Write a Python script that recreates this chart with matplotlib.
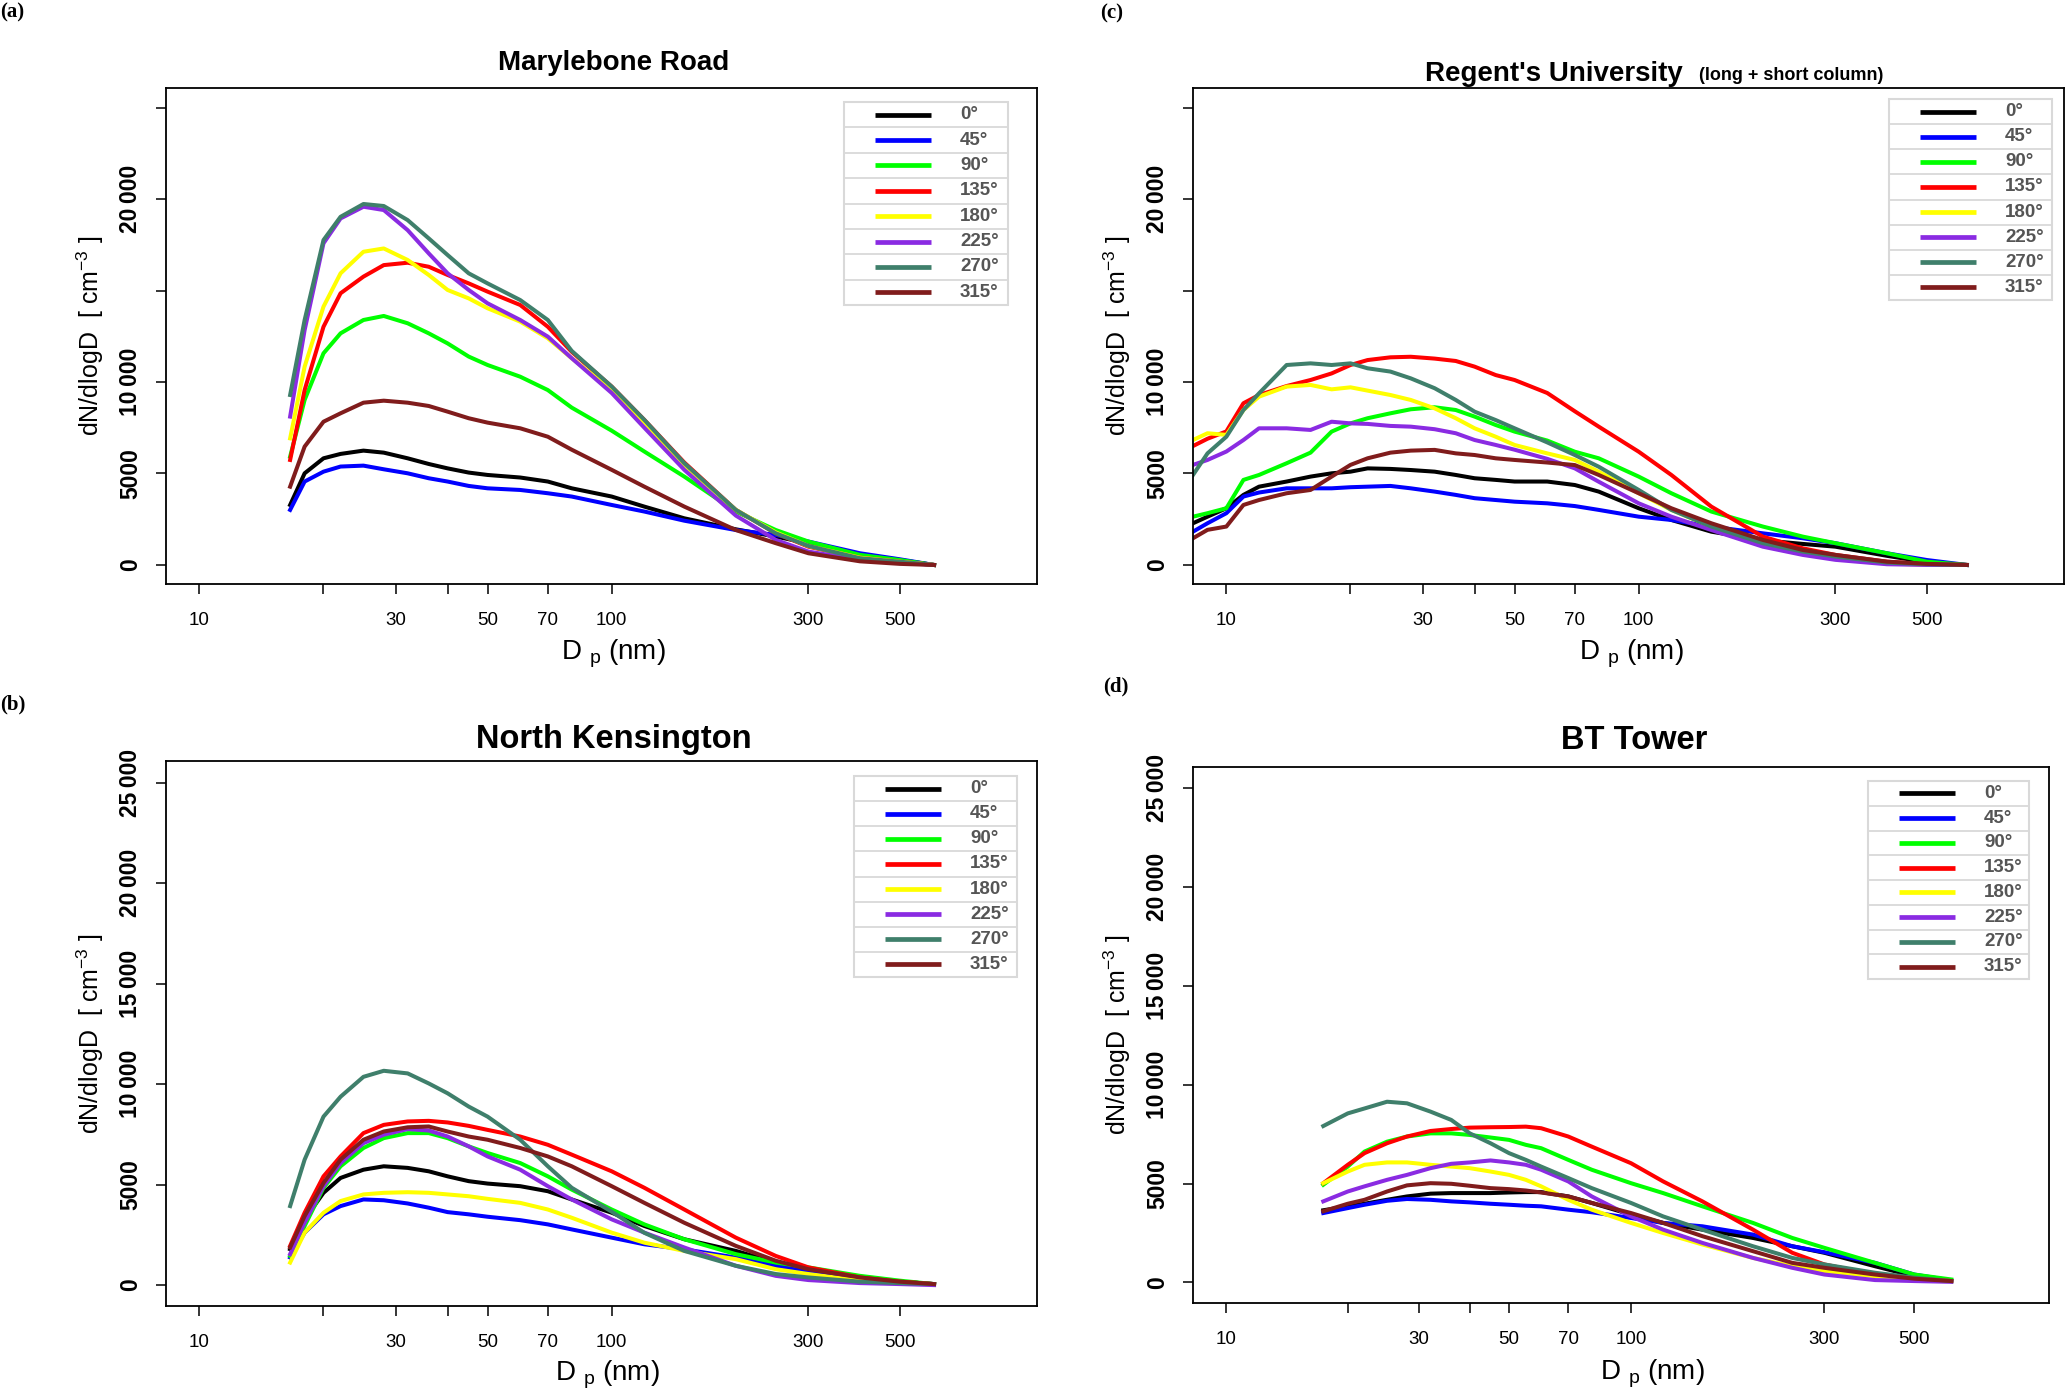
import matplotlib
matplotlib.use("Agg")
import matplotlib.pyplot as plt
from matplotlib.lines import Line2D
from matplotlib.patches import Rectangle
from matplotlib.ticker import NullLocator

plt.rcParams['font.family'] = ['Liberation Sans', 'DejaVu Sans']
plt.rcParams['mathtext.default'] = 'regular'

W, H = 2067, 1394

ANGLES = ['0°', '45°', '90°', '135°', '180°', '225°', '270°', '315°']
COLORS = ['#000000', '#0000ff', '#00ff00', '#ff0000', '#ffff00', '#8a2be2', '#3f7f6b', '#801c1c']

X_TICKS = [10, 20, 30, 40, 50, 70, 100, 300, 500]
X_LABELS = ['10', '', '30', '', '50', '70', '100', '300', '500']
Y_TICKS = [0, 5000, 10000, 15000, 20000, 25000]

# (a) Marylebone Road
MR_DP = [16.6, 18, 20, 22, 25, 28, 32, 36, 40, 45, 50, 60, 70, 80, 100, 120, 150, 200, 250, 300, 400, 500, 605]
MR_0 = [3280, 5010, 5830, 6070, 6250, 6140, 5830, 5520, 5280, 5050, 4920, 4780, 4560, 4190, 3740, 3190, 2550, 1950, 1550, 1190, 550, 270, 0]
MR_45 = [3010, 4560, 5100, 5380, 5430, 5230, 5010, 4740, 4560, 4320, 4190, 4100, 3920, 3740, 3280, 2920, 2420, 1910, 1640, 1280, 640, 310, 0]
MR_90 = [5920, 9020, 11570, 12660, 13390, 13610, 13210, 12660, 12110, 11390, 10930, 10290, 9560, 8600, 7340, 6200, 4830, 2920, 1910, 1280, 550, 270, 0]
MR_135 = [5740, 9560, 13020, 14850, 15760, 16390, 16520, 16300, 15850, 15390, 14940, 14210, 13020, 11650, 9750, 7930, 5600, 3010, 1730, 1000, 400, 180, 0]
MR_180 = [6920, 10840, 14120, 15940, 17120, 17300, 16670, 15850, 15030, 14570, 14030, 13300, 12390, 11300, 9550, 7800, 5450, 3010, 1780, 1040, 400, 180, 0]
MR_225 = [8110, 12840, 17580, 18940, 19580, 19400, 18300, 17030, 15940, 15030, 14300, 13390, 12480, 11300, 9400, 7500, 5200, 2700, 1370, 730, 280, 130, 0]
MR_270 = [9290, 13390, 17760, 19030, 19730, 19620, 18850, 17850, 16940, 15940, 15390, 14480, 13390, 11700, 9750, 7930, 5560, 3010, 1730, 1040, 370, 180, 0]
MR_315 = [4280, 6470, 7830, 8290, 8870, 8980, 8870, 8690, 8380, 8020, 7780, 7470, 7010, 6300, 5200, 4280, 3190, 1910, 1190, 640, 200, 60, 0]

# (c) Regent's University
RU_DP = [8.3, 9, 10, 11, 12, 14, 16, 18, 20, 22, 25, 28, 32, 36, 40, 45, 50, 60, 70, 80, 100, 120, 150, 200, 250, 300, 400, 500, 625]
RU_0 = [2280, 2640, 3100, 3830, 4280, 4560, 4830, 5010, 5100, 5280, 5250, 5190, 5100, 4920, 4740, 4650, 4560, 4560, 4370, 4010, 3100, 2460, 1820, 1350, 1150, 1000, 500, 150, 0]
RU_45 = [1820, 2280, 2830, 3740, 3960, 4190, 4190, 4190, 4250, 4280, 4320, 4190, 4010, 3830, 3650, 3550, 3460, 3370, 3220, 3010, 2640, 2460, 2100, 1730, 1460, 1190, 640, 270, 0]
RU_90 = [2640, 2830, 3100, 4650, 4920, 5560, 6140, 7290, 7740, 8020, 8290, 8510, 8620, 8470, 8110, 7650, 7290, 6800, 6190, 5830, 4830, 3920, 2920, 2100, 1550, 1190, 640, 180, 0]
RU_135 = [6500, 6900, 7300, 8840, 9290, 9780, 10110, 10470, 10930, 11200, 11350, 11380, 11280, 11150, 10840, 10380, 10110, 9400, 8400, 7560, 6190, 4920, 3190, 1550, 910, 550, 180, 40, 0]
RU_180 = [6830, 7200, 7110, 8470, 9200, 9750, 9840, 9600, 9710, 9530, 9290, 9020, 8560, 8020, 7470, 7010, 6560, 6100, 5740, 5100, 3920, 3010, 2100, 1090, 640, 400, 90, 0, 0]
RU_225 = [5470, 5740, 6200, 6830, 7470, 7470, 7380, 7830, 7740, 7710, 7600, 7560, 7420, 7200, 6830, 6560, 6300, 5800, 5280, 4550, 3370, 2640, 1910, 1000, 550, 280, 40, 0, 0]
RU_270 = [4920, 6100, 7010, 8470, 9380, 10930, 11020, 10930, 11020, 10750, 10570, 10200, 9660, 9020, 8380, 7920, 7470, 6700, 6010, 5370, 4100, 3010, 2100, 1190, 730, 460, 130, 40, 0]
RU_315 = [1460, 1920, 2100, 3280, 3550, 3920, 4100, 4830, 5470, 5830, 6140, 6250, 6290, 6100, 6010, 5830, 5740, 5600, 5460, 4920, 3920, 3100, 2280, 1370, 820, 550, 180, 60, 0]

# (b) North Kensington
NK_DP = [16.6, 18, 20, 22, 25, 28, 32, 36, 40, 45, 50, 60, 70, 80, 100, 120, 150, 200, 250, 300, 400, 500, 605]
NK_0 = [1780, 3270, 4590, 5330, 5740, 5910, 5830, 5660, 5410, 5170, 5050, 4920, 4670, 4260, 3600, 2940, 2280, 1700, 1120, 790, 380, 170, 50]
NK_45 = [1370, 2610, 3520, 3930, 4260, 4220, 4060, 3850, 3630, 3520, 3400, 3230, 3020, 2770, 2360, 2030, 1780, 1370, 960, 710, 380, 170, 50]
NK_90 = [1450, 2940, 4840, 5910, 6820, 7310, 7560, 7560, 7310, 6900, 6570, 6070, 5410, 4750, 3760, 3020, 2280, 1540, 1120, 880, 460, 220, 50]
NK_135 = [1950, 3600, 5410, 6400, 7560, 7970, 8140, 8170, 8090, 7920, 7720, 7390, 6980, 6490, 5660, 4840, 3760, 2360, 1450, 880, 380, 170, 50]
NK_180 = [1120, 2610, 3600, 4180, 4510, 4590, 4620, 4590, 4510, 4420, 4290, 4090, 3760, 3350, 2610, 2110, 1700, 1290, 790, 550, 220, 100, 50]
NK_225 = [1540, 3100, 4920, 6070, 7060, 7480, 7760, 7690, 7390, 6900, 6400, 5740, 4920, 4260, 3270, 2610, 1870, 960, 460, 250, 100, 50, 0]
NK_270 = [3930, 6240, 8380, 9370, 10360, 10660, 10530, 10030, 9540, 8880, 8380, 7230, 5910, 4840, 3650, 2600, 1700, 960, 550, 380, 170, 100, 50]
NK_315 = [1870, 3430, 5080, 6240, 7230, 7640, 7850, 7890, 7640, 7390, 7230, 6820, 6400, 5910, 4920, 4090, 3100, 1950, 1210, 790, 380, 170, 50]

# (d) BT Tower
BT_DP = [17.4, 20, 22, 25, 28, 32, 36, 40, 45, 50, 55, 60, 70, 80, 100, 120, 150, 200, 250, 300, 400, 500, 617]
BT_0 = [3650, 3850, 3980, 4180, 4350, 4490, 4520, 4520, 4520, 4550, 4570, 4570, 4350, 4020, 3430, 3010, 2670, 2250, 1830, 1500, 820, 320, 70]
BT_45 = [3510, 3760, 3930, 4130, 4220, 4180, 4100, 4050, 3980, 3930, 3880, 3850, 3680, 3550, 3260, 3010, 2840, 2420, 1830, 1530, 990, 400, 100]
BT_90 = [4940, 5860, 6620, 7120, 7380, 7540, 7540, 7460, 7330, 7210, 6960, 6790, 6200, 5700, 5020, 4520, 3850, 3010, 2250, 1750, 990, 400, 150]
BT_135 = [5020, 5950, 6540, 7040, 7380, 7660, 7760, 7830, 7850, 7860, 7880, 7800, 7380, 6870, 6030, 5110, 4100, 2670, 1500, 910, 400, 190, 70]
BT_180 = [5020, 5610, 5950, 6070, 6070, 5950, 5860, 5780, 5610, 5440, 5190, 4860, 4180, 3680, 3010, 2500, 1920, 1240, 820, 570, 320, 150, 70]
BT_225 = [4100, 4600, 4860, 5190, 5440, 5780, 6000, 6070, 6170, 6070, 5950, 5700, 5110, 4350, 3340, 2670, 2000, 1240, 740, 400, 120, 70, 30]
BT_270 = [7910, 8550, 8800, 9140, 9060, 8640, 8220, 7540, 7040, 6540, 6200, 5860, 5280, 4770, 4020, 3340, 2670, 1830, 1240, 910, 490, 240, 70]
BT_315 = [3600, 3980, 4180, 4600, 4910, 5020, 4990, 4890, 4770, 4720, 4650, 4550, 4350, 4020, 3510, 3010, 2340, 1580, 990, 740, 400, 190, 70]


def ylab(v, show):
    if not show:
        return ''
    s = str(v)
    if v >= 10000:
        s = s[:-3] + '\u2009' + s[-3:]
    return s


fig = plt.figure(figsize=(W / 100, H / 100), dpi=100)


def px(x, y):
    return x / W, 1 - y / H


def draw_key(box):
    l, t, r, b = box
    rh = (b - t) / len(ANGLES)
    fig.add_artist(Rectangle(px(l, b), (r - l) / W, (b - t) / H, transform=fig.transFigure,
                             fill=False, ec='#d9d9d9', lw=1.5))
    for i, (lab, c) in enumerate(zip(ANGLES, COLORS)):
        yc = t + rh * (i + 0.5)
        if i:
            ys = 1 - (t + rh * i) / H
            fig.add_artist(Line2D([l / W, r / W], [ys, ys], color='#d9d9d9', lw=1.3,
                                  transform=fig.transFigure))
        fig.add_artist(Line2D([(l + 31) / W, (l + 87) / W], [1 - yc / H] * 2, color=c, lw=3.4,
                              transform=fig.transFigure, solid_capstyle='butt'))
        fig.text((l + 116) / W, 1 - yc / H, lab, fontsize=13.5, fontweight='bold',
                 color='#555555', va='center', ha='left')


def draw_panel(box, dp, series, show, key_box, xlab_pos):
    l, t, r, b = box
    ax = fig.add_axes([l / W, 1 - b / H, (r - l) / W, (b - t) / H])
    for vals, c in zip(series, COLORS):
        ax.plot(dp, vals, color=c, lw=2.9)
    ax.set_xscale('log')
    ax.set_xlim(8.3, 1075)
    ax.set_ylim(-1040, 26070)
    ax.set_xticks(X_TICKS)
    ax.set_xticklabels(X_LABELS, fontsize=13.5)
    ax.xaxis.set_minor_locator(NullLocator())
    ax.set_yticks(Y_TICKS)
    ax.set_yticklabels([ylab(v, s) for v, s in zip(Y_TICKS, show)], rotation=90,
                       va='center', fontsize=16.5, fontweight='bold')
    ax.tick_params(axis='both', direction='out', length=7, width=1.1)
    ax.tick_params(axis='x', pad=13)
    ax.tick_params(axis='y', pad=10)
    for sp in ax.spines.values():
        sp.set_linewidth(1.3)
    fig.text((l - 76) / W, 1 - (t + b) / 2 / H, 'dN/dlogD  [ cm$^{-3}$ ]', rotation=90,
             fontsize=18, ha='center', va='center')
    fig.text(xlab_pos[0] / W, 1 - xlab_pos[1] / H, 'D $_{p}$ (nm)', fontsize=20,
             ha='center', va='center')
    draw_key(key_box)
    return ax


SHOW_AC = [True, True, True, False, True, False]
SHOW_BD = [True] * 6

draw_panel((166, 88, 1037, 584), MR_DP,
           [MR_0, MR_45, MR_90, MR_135, MR_180, MR_225, MR_270, MR_315],
           SHOW_AC, (844, 102, 1008, 305), (613, 654))
draw_panel((1193, 88, 2064, 584), RU_DP,
           [RU_0, RU_45, RU_90, RU_135, RU_180, RU_225, RU_270, RU_315],
           SHOW_AC, (1889, 99, 2052, 300), (1631, 654))
draw_panel((166, 761, 1037, 1306), NK_DP,
           [NK_0, NK_45, NK_90, NK_135, NK_180, NK_225, NK_270, NK_315],
           SHOW_BD, (854, 776, 1017, 977), (607, 1375))
draw_panel((1193, 767, 2049, 1303), BT_DP,
           [BT_0, BT_45, BT_90, BT_135, BT_180, BT_225, BT_270, BT_315],
           SHOW_BD, (1868, 781, 2029, 979), (1652, 1374))

# titles
fig.text(614 / W, 1 - 70 / H, 'Marylebone Road', fontsize=20, fontweight='bold',
         ha='center', va='baseline')
fig.text(1425 / W, 1 - 81 / H, "Regent's University", fontsize=20, fontweight='bold',
         ha='left', va='baseline')
fig.text(1699 / W, 1 - 80 / H, '(long + short column)', fontsize=13, fontweight='bold',
         ha='left', va='baseline')
fig.text(614 / W, 1 - 748 / H, 'North Kensington', fontsize=23.5, fontweight='bold',
         ha='center', va='baseline')
fig.text(1634 / W, 1 - 749 / H, 'BT Tower', fontsize=23.5, fontweight='bold',
         ha='center', va='baseline')

# panel letters
for lab, x, y in [('(a)', 0, 12), ('(c)', 1100, 13), ('(b)', 0, 704), ('(d)', 1103, 686)]:
    fig.text(x / W, 1 - y / H, lab, fontsize=15, fontweight='bold', family='Liberation Serif',
             ha='left', va='center')

fig.savefig('out.png', dpi=100)
